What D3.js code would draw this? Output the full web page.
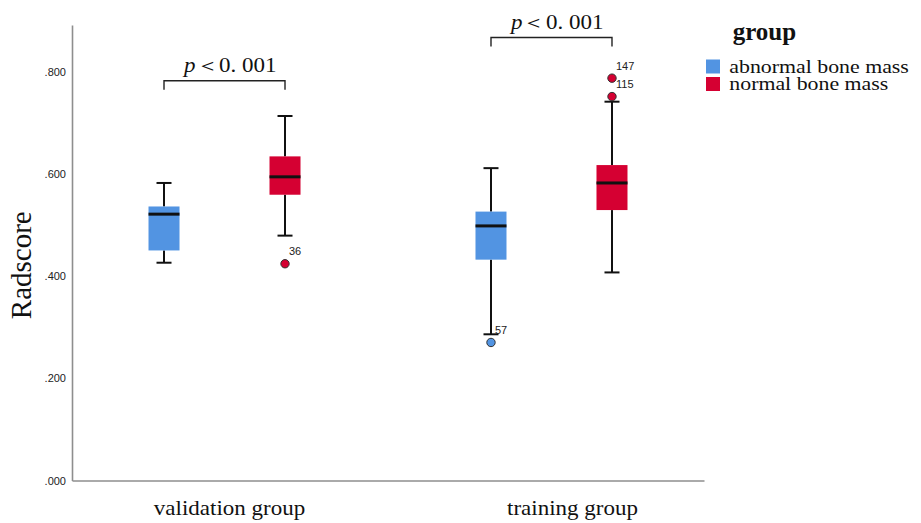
<!DOCTYPE html>
<html>
<head>
<meta charset="utf-8">
<script src="https://cdn.jsdelivr.net/npm/d3@7"></script>
<style>
  html, body { margin: 0; padding: 0; background: #fff; }
  svg { display: block; }
</style>
</head>
<body>
<svg id="chart" width="921" height="523"></svg>
<script>
// Categories and groups
const categories = ["validation group", "training group"];
const groups = ["abnormal bone mass", "normal bone mass"];
const groupColors = ["#5294e2", "#d50032"];

// Box statistics per category: [lower whisker, Q1, median, Q3, upper whisker]
const abnormalStats = [
  [0.426, 0.450, 0.521, 0.536, 0.582],
  [0.286, 0.432, 0.498, 0.526, 0.611]
];
const normalStats = [
  [0.479, 0.559, 0.594, 0.634, 0.713],
  [0.407, 0.529, 0.582, 0.617, 0.741]
];

// Outlying cases: category, group, value, case number
const outlierCategory = ["validation group", "training group", "training group", "training group"];
const outlierGroup = ["normal bone mass", "abnormal bone mass", "normal bone mass", "normal bone mass"];
const outlierValue = [0.424, 0.270, 0.787, 0.751];
const outlierCase = ["36", "57", "147", "115"];

// Significance brackets
const bracketCategory = ["validation group", "training group"];
const bracketLevel = [0.782, 0.8665];
const bracketText = ["＜0. 001", "＜0. 001"];

// Y axis ticks
const yTicks = [0, 0.2, 0.4, 0.6, 0.8];

(function () {
const svg = d3.select("#chart");
const plotLeft = 72, plotRight = 704, plotBottom = 480.5, plotTop = 25;

const y = d3.scaleLinear().domain([0, 0.891]).range([plotBottom, plotTop]);
const x0 = d3.scalePoint().domain(categories).range([plotLeft, plotRight]).padding(0.4664);
const x1 = d3.scalePoint().domain(groups).range([-60.5, 60.5]);
const color = d3.scaleOrdinal().domain(groups).range(groupColors);

const boxW = 31, capW = 15;
const serif = "'Liberation Serif', 'Times New Roman', serif";
const sans = "'Liberation Sans', Arial, sans-serif";

// Y axis
const yAxis = svg.append("g")
  .attr("transform", `translate(${plotLeft},0)`)
  .call(d3.axisLeft(y).tickValues(yTicks).tickSize(0).tickSizeOuter(0).tickPadding(6)
    .tickFormat(d => d3.format(".3f")(d).replace(/^0/, "")));
yAxis.select(".domain").attr("stroke", "#8e8e8e").attr("stroke-width", 1.6);
yAxis.selectAll("text").attr("font-family", sans).attr("font-size", 11).attr("fill", "#222");

// X axis baseline
const xLine = d3.scaleLinear().domain([0, 1]).range([plotLeft, plotRight]);
svg.append("g")
  .attr("transform", `translate(0,${plotBottom})`)
  .call(d3.axisBottom(xLine).tickValues([]).tickSizeOuter(0))
  .select(".domain").attr("stroke", "#8e8e8e").attr("stroke-width", 1.6);

// Category labels
const labelShift = [5, 21];
categories.forEach((c, i) => {
  svg.append("text")
    .attr("transform", `translate(${x0(c) + labelShift[i]},515) scale(1.15,1)`)
    .attr("text-anchor", "middle")
    .attr("font-family", serif).attr("font-size", 20).attr("fill", "#111")
    .text(c);
});

// Y axis title
svg.append("text")
  .attr("transform", `translate(31,${y(0.425) + 2}) rotate(-90)`)
  .attr("text-anchor", "middle")
  .attr("font-family", serif).attr("font-size", 29).attr("fill", "#111")
  .text("Radscore");

// Boxes
const boxes = [];
categories.forEach((c, i) => {
  boxes.push({ c, g: groups[0], s: abnormalStats[i] });
  boxes.push({ c, g: groups[1], s: normalStats[i] });
});

const bg = svg.append("g").selectAll("g").data(boxes).join("g")
  .attr("transform", d => `translate(${x0(d.c) + x1(d.g)},0)`);

// whiskers
bg.append("line").attr("x1", 0).attr("x2", 0)
  .attr("y1", d => y(d.s[0])).attr("y2", d => y(d.s[1]))
  .attr("stroke", "#111").attr("stroke-width", 2);
bg.append("line").attr("x1", 0).attr("x2", 0)
  .attr("y1", d => y(d.s[3])).attr("y2", d => y(d.s[4]))
  .attr("stroke", "#111").attr("stroke-width", 2);
// caps
bg.append("line").attr("x1", -capW / 2).attr("x2", capW / 2)
  .attr("y1", d => y(d.s[0])).attr("y2", d => y(d.s[0]))
  .attr("stroke", "#111").attr("stroke-width", 2);
bg.append("line").attr("x1", -capW / 2).attr("x2", capW / 2)
  .attr("y1", d => y(d.s[4])).attr("y2", d => y(d.s[4]))
  .attr("stroke", "#111").attr("stroke-width", 2);
// box
bg.append("rect")
  .attr("x", -boxW / 2).attr("width", boxW)
  .attr("y", d => y(d.s[3])).attr("height", d => y(d.s[1]) - y(d.s[3]))
  .attr("fill", d => color(d.g));
// median
bg.append("line").attr("x1", -boxW / 2).attr("x2", boxW / 2)
  .attr("y1", d => y(d.s[2])).attr("y2", d => y(d.s[2]))
  .attr("stroke", "#111").attr("stroke-width", 3);

// Outliers
const outliers = outlierValue.map((v, i) => ({ c: outlierCategory[i], g: outlierGroup[i], v, id: outlierCase[i] }));
const og = svg.append("g").selectAll("g").data(outliers).join("g")
  .attr("transform", d => `translate(${x0(d.c) + x1(d.g)},${y(d.v)})`);
og.append("circle").attr("r", 4.2)
  .attr("fill", d => color(d.g)).attr("stroke", "#333").attr("stroke-width", 1);
og.append("text").attr("x", 4).attr("y", -8.5)
  .attr("font-family", sans).attr("font-size", 11).attr("fill", "#222")
  .text(d => d.id);

// Significance brackets
bracketCategory.forEach((c, i) => {
  const xa = x0(c) + x1(groups[0]);
  const xb = x0(c) + x1(groups[1]);
  const yb = y(bracketLevel[i]);
  svg.append("path")
    .attr("d", d3.line()([[xa, yb + 9], [xa, yb], [xb, yb], [xb, yb + 9]]))
    .attr("fill", "none").attr("stroke", "#222").attr("stroke-width", 1.4);
  const t = svg.append("text")
    .attr("transform", `translate(${xa + 20},${yb - 8.5}) scale(1.15,1)`)
    .attr("font-family", serif).attr("font-size", 20).attr("fill", "#111");
  t.append("tspan").attr("font-style", "italic").text("p");
  t.append("tspan").text(bracketText[i]);
});

// Legend
const lg = svg.append("g");
lg.append("text").attr("x", 732.7).attr("y", 40)
  .attr("font-family", serif).attr("font-size", 25).attr("font-weight", "bold").attr("fill", "#111")
  .text("group");
groups.forEach((g, i) => {
  const yy = 59.5 + i * 17.5;
  lg.append("rect").attr("x", 706).attr("y", yy).attr("width", 14).attr("height", 14).attr("fill", color(g));
  lg.append("text")
    .attr("transform", `translate(729.3,${yy + 13.3}) scale(1.15,1)`)
    .attr("font-family", serif).attr("font-size", 19).attr("fill", "#111")
    .text(g);
});
})();
</script>
</body>
</html>
